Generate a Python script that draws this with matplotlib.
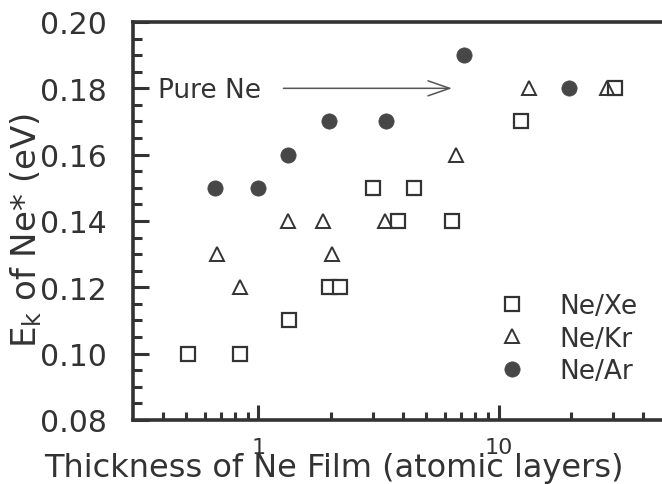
import matplotlib
matplotlib.use("Agg")
import matplotlib.pyplot as plt
from matplotlib.ticker import FixedLocator, MultipleLocator, FixedFormatter, NullFormatter, FormatStrFormatter

# Kinetic energy of desorbing Ne* versus Ne film thickness on rare-gas substrates
xe_thickness = [0.51, 0.84, 1.34, 1.97, 2.18, 3.0, 3.83, 4.43, 6.38, 12.4, 30.5]
xe_energy = [0.10, 0.10, 0.11, 0.12, 0.12, 0.15, 0.14, 0.15, 0.14, 0.17, 0.18]

kr_thickness = [0.67, 0.84, 1.33, 1.86, 2.03, 3.35, 6.63, 13.4, 28.4]
kr_energy = [0.13, 0.12, 0.14, 0.14, 0.13, 0.14, 0.16, 0.18, 0.18]

ar_thickness = [0.66, 1.0, 1.33, 1.97, 3.40, 7.2, 19.6]
ar_energy = [0.15, 0.15, 0.16, 0.17, 0.17, 0.19, 0.18]

series_labels = ["Ne/Xe", "Ne/Kr", "Ne/Ar"]
x_major_ticks = [1, 10]
x_major_labels = ["1", "10"]
x_minor_ticks = [0.4, 0.5, 0.6, 0.7, 0.8, 0.9, 2, 3, 4, 5, 6, 7, 8, 9,
                 20, 30, 40, 50, 60, 70, 80, 90]
pure_ne_energy = 0.18

ink = "#333333"
plt.rcParams["font.family"] = ["DejaVu Sans"]
plt.rcParams["text.color"] = ink

fig = plt.figure(figsize=(6.62, 4.85), dpi=100)
ax = fig.add_axes([0.2009, 0.132, 0.9147, 0.8206])
ax.set_xscale("log")
ax.set_xlim(0.3, 100)
ax.set_ylim(0.08, 0.20)

ax.plot(xe_thickness, xe_energy, linestyle="none", marker="s", ms=10.5,
        mfc="white", mec=ink, mew=1.6, label=series_labels[0], zorder=3)
ax.plot(kr_thickness, kr_energy, linestyle="none", marker="^", ms=9.5,
        mfc="none", mec=ink, mew=1.4, label=series_labels[1], zorder=4)
ax.plot(ar_thickness, ar_energy, linestyle="none", marker="o", ms=11,
        mfc="#474747", mec="#474747", mew=0.5, label=series_labels[2], zorder=3)

# Arrow marking the pure-Ne value
ax.annotate("", xy=(6.40, pure_ne_energy), xytext=(1.27, pure_ne_energy),
            arrowprops=dict(arrowstyle="->,head_length=0.78,head_width=0.27",
                            mutation_scale=20, color="#555555", lw=1.1,
                            shrinkA=0, shrinkB=0))
ax.text(0.383, 0.1795, "Pure Ne", fontsize=19, ha="left", va="center", color=ink)

# Spines and ticks
for side in ax.spines.values():
    side.set_linewidth(2.6)
    side.set_color(ink)

ax.xaxis.set_major_locator(FixedLocator(x_major_ticks))
ax.xaxis.set_major_formatter(FixedFormatter(x_major_labels))
ax.xaxis.set_minor_locator(FixedLocator(x_minor_ticks))
ax.xaxis.set_minor_formatter(NullFormatter())
ax.yaxis.set_major_locator(MultipleLocator(0.02))
ax.yaxis.set_minor_locator(MultipleLocator(0.005))
ax.yaxis.set_major_formatter(FormatStrFormatter("%.2f"))

ax.tick_params(which="both", direction="in", color=ink, width=2.2,
               top=False, right=False)
ax.tick_params(axis="x", which="major", length=11, pad=12, labelsize=16, labelcolor=ink)
ax.tick_params(axis="x", which="minor", length=6)
ax.tick_params(axis="y", which="major", length=11.5, pad=19, labelsize=21.5, labelcolor=ink)
ax.tick_params(axis="y", which="minor", length=6.5)

ax.set_xlabel("Thickness of Ne Film (atomic layers)", fontsize=23, color=ink,
              ha="center", va="bottom")
ax.xaxis.set_label_coords(0.331, -0.1583)
ax.set_ylabel(r"E$_\mathregular{k}$ of Ne* (eV)", fontsize=24.5, color=ink,
              ha="center", va="center")
ax.yaxis.set_label_coords(-0.176, 0.478)

leg = ax.legend(loc="upper left", bbox_to_anchor=(499 / 662, 1 - 294 / 485),
                bbox_transform=fig.transFigure, frameon=False, fontsize=19,
                numpoints=1, handlelength=1.0, handletextpad=1.3,
                labelspacing=0.25, borderpad=0, borderaxespad=0)
for t in leg.get_texts():
    t.set_color(ink)

fig.savefig("out.png", dpi=100)
